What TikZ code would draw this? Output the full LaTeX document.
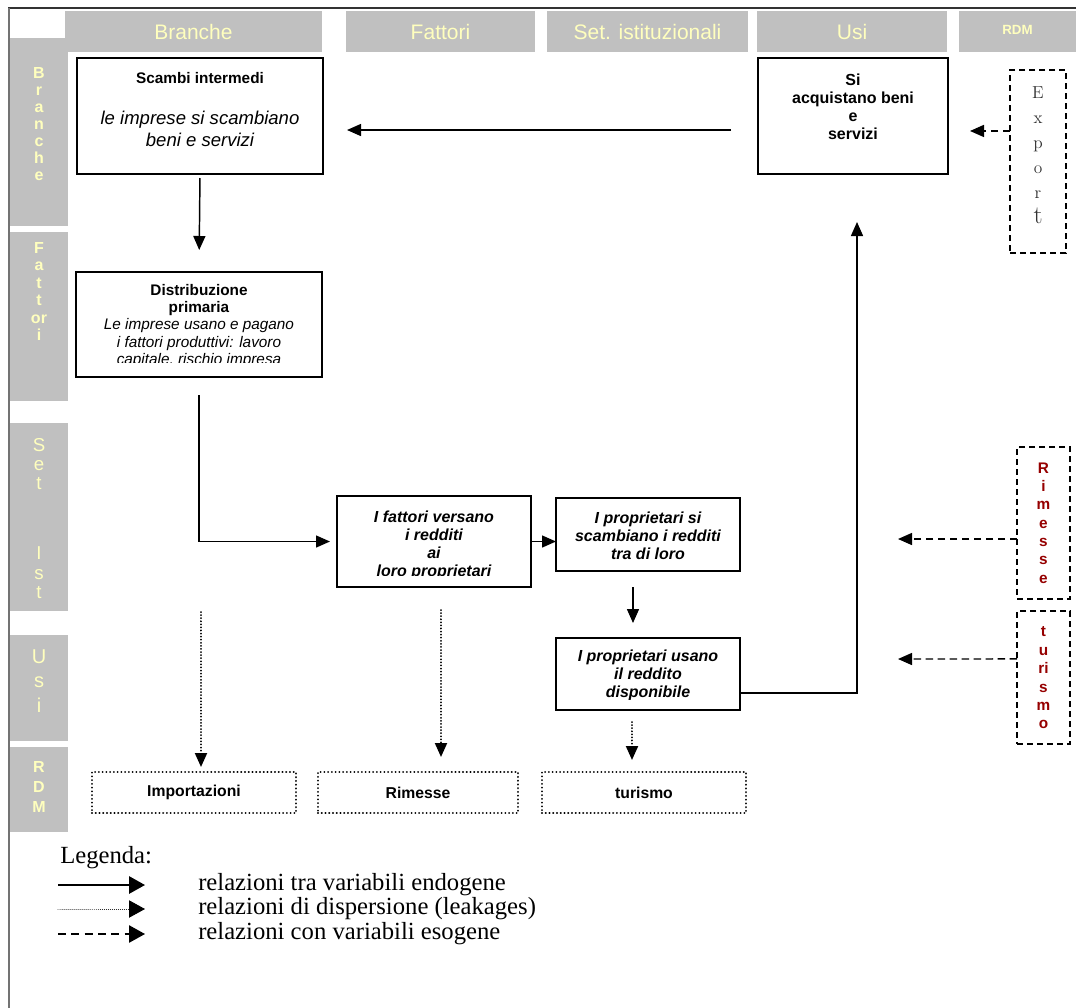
\documentclass[tikz,border=0pt]{standalone}
\usepackage{fontspec}
\usetikzlibrary{arrows.meta}
\newfontfamily\arialf{Liberation Sans}
\newfontfamily\timesf{Liberation Serif}
\definecolor{bandgray}{RGB}{192,192,192}
\definecolor{pale}{RGB}{255,255,190}
\definecolor{rdmred}{RGB}{150,0,0}
\definecolor{exgray}{RGB}{50,50,50}
\begin{document}
\begin{tikzpicture}[x=0.75pt,y=-0.75pt,
  band/.style={fill=bandgray,draw=none,inner sep=0pt,outer sep=0pt},
  hdr/.style={font=\arialf\fontsize{15.75pt}{18pt}\selectfont,text=pale},
  side/.style={align=center,inner sep=0pt,text=pale},
  box/.style={draw,line width=1.5pt,inner sep=0pt,outer sep=0pt},
  dbox/.style={draw,line width=1.1pt,dash pattern=on 4.5pt off 3pt,inner sep=0pt,outer sep=0pt},
  obox/.style={draw,line width=1.6pt,dash pattern=on 0.01pt off 2.8pt,line cap=round,inner sep=0pt,outer sep=0pt,
     font=\arialf\bfseries\fontsize{11.8pt}{14pt}\selectfont},
  txt/.style={align=center,inner sep=0pt},
  btxt/.style={txt,font=\arialf\bfseries\fontsize{12pt}{13.5pt}\selectfont},
  bitxt/.style={txt,font=\arialf\bfseries\itshape\fontsize{12pt}{13.5pt}\selectfont},
  arr/.style={line width=1.1pt,-{Triangle[length=10.5pt,width=9pt]}},
  darr/.style={arr,dash pattern=on 5.5pt off 3.5pt},
  parr/.style={line width=1.5pt,dash pattern=on 0.01pt off 2.3pt,line cap=round,-{Triangle[length=10.5pt,width=9pt]}},
  legtxt/.style={anchor=west,inner sep=0pt,font=\timesf\fontsize{18.5pt}{22pt}\selectfont}
]
\useasboundingbox (0,0) rectangle (1076,1008);
\fill[white] (0,0) rectangle (1076,1008);

% frame
\draw[line width=1.5pt,black!80] (8,8) -- (1076,8);
\draw[line width=1.5pt,black!55] (9,8) -- (9,1008);

% header bands
\node[band,hdr,minimum width=192.75pt,minimum height=30.75pt] (hB) at (193.5,31.5) {Branche};
\node[band,hdr,minimum width=141.75pt,minimum height=30.75pt] (hF) at (440.5,31.5) {Fattori};
\node[band,hdr,minimum width=150.75pt,minimum height=30.75pt] (hS) at (647.5,31.5) {Set. istituzionali};
\node[band,hdr,minimum width=142.5pt,minimum height=30.75pt] (hU) at (852,31.5) {Usi};
\node[band,minimum width=87.75pt,minimum height=30.75pt,text=pale,font=\arialf\bfseries\fontsize{10pt}{12pt}\selectfont] (hR) at (1017.5,31.5) {\raisebox{3pt}{RDM}};

% left bands
\node[band,minimum width=43.5pt,minimum height=141pt] (lB) at (39,132) {};
\node[band,minimum width=43.5pt,minimum height=126.75pt] (lF) at (39,316.5) {};
\node[band,minimum width=43.5pt,minimum height=141pt] (lS) at (39,517) {};
\node[band,minimum width=43.5pt,minimum height=79.5pt] (lU) at (39,688) {};
\node[band,minimum width=43.5pt,minimum height=63.75pt] (lR) at (39,789.5) {};

\node[side,font=\arialf\bfseries\fontsize{12pt}{12.75pt}\selectfont] (sB) at (39,124) {B\\r\\a\\n\\c\\h\\e};
\node[side,font=\arialf\bfseries\fontsize{12pt}{13.1pt}\selectfont] (sF) at (39,291.5) {F\\a\\t\\t\\or\\i};
\node[side,font=\arialf\fontsize{14pt}{14.5pt}\selectfont] (sS) at (39,518.5) {S\\e\\t\\[38pt]I\\s\\t};
\node[side,font=\arialf\fontsize{15pt}{18.4pt}\selectfont] (sU) at (39,681) {U\\s\\i};
\node[side,font=\arialf\bfseries\fontsize{12pt}{15pt}\selectfont] (sR) at (39,787) {R\\D\\M};

% main boxes
\node[box,minimum width=184.5pt,minimum height=87pt] (b1) at (200,116) {};
\node[btxt,font=\arialf\bfseries\fontsize{11.5pt}{13pt}\selectfont] (t1a) at (200,78) {Scambi intermedi};
\node[txt,font=\arialf\itshape\fontsize{13.9pt}{16.5pt}\selectfont] (t1b) at (200,129) {le imprese si scambiano\\beni e servizi};

\node[box,minimum width=184.5pt,minimum height=78.75pt] (b2) at (199,324.5) {};
\begin{scope}
\clip (76,272) rectangle (322,362);
\node[txt,font=\arialf\fontsize{11.5pt}{13.1pt}\selectfont] (t2) at (199,326)
  {{\bfseries Distribuzione}\\{\bfseries primaria}\\{\itshape Le imprese usano e pagano}\\{\itshape i fattori produttivi: lavoro}\\{\itshape capitale, rischio impresa}};
\end{scope}

\node[box,minimum width=145.5pt,minimum height=68.25pt] (b3) at (434,541.5) {};
\begin{scope}
\clip (337,496) rectangle (531,575);
\node[bitxt] (t3) at (434,545) {I fattori versano\\i redditi\\ai\\loro proprietari};
\end{scope}

\node[box,minimum width=138pt,minimum height=54.75pt] (b4) at (648,534.5) {};
\node[bitxt] (t4) at (648,536) {I proprietari si\\scambiano i redditi\\tra di loro};

\node[box,minimum width=138pt,minimum height=54pt] (b5) at (648,674) {};
\begin{scope}
\clip (556,638) rectangle (740,699);
\node[bitxt] (t5) at (648,675) {I proprietari usano\\il reddito\\disponibile};
\end{scope}

\node[box,minimum width=142.5pt,minimum height=87pt] (b6) at (853,116) {};
\node[btxt] (t6) at (853,107) {Si\\acquistano beni\\e\\servizi};

% exogenous boxes
\node[dbox,minimum width=42pt,minimum height=137.25pt] (ex) at (1038,161.5) {};
\node[txt,text=exgray,font=\rmfamily\fontsize{13pt}{18.75pt}\selectfont] (sEx) at (1038,155.5)
  {E\\x\\p\\o\\r\\\smash{\fontsize{19pt}{19pt}\selectfont t}};
\node[dbox,minimum width=39.75pt,minimum height=114pt] (ri) at (1043.5,523) {};
\node[txt,text=rdmred,font=\arialf\bfseries\fontsize{11.5pt}{13.7pt}\selectfont] (sRi) at (1043.5,523) {R\\i\\m\\e\\s\\s\\e};
\node[dbox,minimum width=39.75pt,minimum height=99.75pt] (tu) at (1043.5,677.5) {};
\node[txt,text=rdmred,font=\arialf\bfseries\fontsize{11.5pt}{13.8pt}\selectfont] (sTu) at (1043.5,678) {t\\u\\ri\\s\\m\\o};

% leakage boxes
\node[obox,minimum width=153pt,minimum height=30.75pt] (im) at (194,792.5) {Importazioni};
\node[obox,minimum width=150pt,minimum height=30.75pt] (rm) at (418,792.5) {Rimesse};
\node[obox,minimum width=153pt,minimum height=30.75pt] (tr) at (644,792.5) {turismo};

% endogenous arrows
\draw[arr,shorten <=3pt,shorten >=16.5pt] (b1.south) -- (b2.north);
\draw[arr,shorten <=13.5pt,shorten >=5.25pt] (b2.south) |- (b3.west);
\draw[arr] (b3.east) -- (b3.east -| b4.west);
\draw[arr,shorten <=12pt,shorten >=11.25pt] ([xshift=-11.25pt]b4.south) -- ([xshift=-11.25pt]b5.north);
\draw[arr,shorten >=36pt] ([yshift=-14.25pt]b5.east) -| ([xshift=3pt]b6.south);
\draw[arr,shorten <=20.25pt,shorten >=18pt] ([yshift=-10.5pt]b6.west) -- ([yshift=-10.5pt]b1.east);

% exogenous arrows
\coordinate (rt) at (898,539);
\coordinate (tt) at (898,659);
\draw[darr,shorten >=16.5pt] ([yshift=22.9pt]ex.west) -- ([yshift=22.9pt]ex.west -| b6.east);
\draw[darr] ([yshift=-12pt]ri.west) -- (rt);
\draw[darr] ([yshift=13.9pt]tu.west) -- (tt);

% leakage arrows
\coordinate (p1s) at (201,612);
\coordinate (p2s) at (441,610);
\coordinate (p3s) at (632,722);
\draw[parr,shorten >=3.75pt] (p1s) -- (p1s |- im.north);
\draw[parr,shorten >=11.25pt] (p2s) -- (p2s |- rm.north);
\draw[parr,shorten >=9pt] (p3s) -- (p3s |- tr.north);

% legend
\node[legtxt] (lg) at (60,858) {Legenda:};
\coordinate (l1a) at (58,885); \coordinate (l1b) at (145,885);
\coordinate (l2a) at (58,909); \coordinate (l2b) at (145,909);
\coordinate (l3a) at (58,934); \coordinate (l3b) at (145,934);
\draw[line width=1.5pt,-{Triangle[length=12pt,width=13pt]}] (l1a) -- (l1b);
\draw[line width=0.7pt,dash pattern=on 0.01pt off 1.5pt,line cap=round,-{Triangle[length=12pt,width=13pt]}] (l2a) -- (l2b);
\draw[line width=1.1pt,dash pattern=on 6pt off 4pt,-{Triangle[length=12pt,width=13pt]}] (l3a) -- (l3b);
\node[legtxt] (lt1) at (198,885) {relazioni tra variabili endogene};
\node[legtxt] (lt2) at (198,909) {relazioni di dispersione (leakages)};
\node[legtxt] (lt3) at (198,934) {relazioni con variabili esogene};
\end{tikzpicture}
\end{document}
